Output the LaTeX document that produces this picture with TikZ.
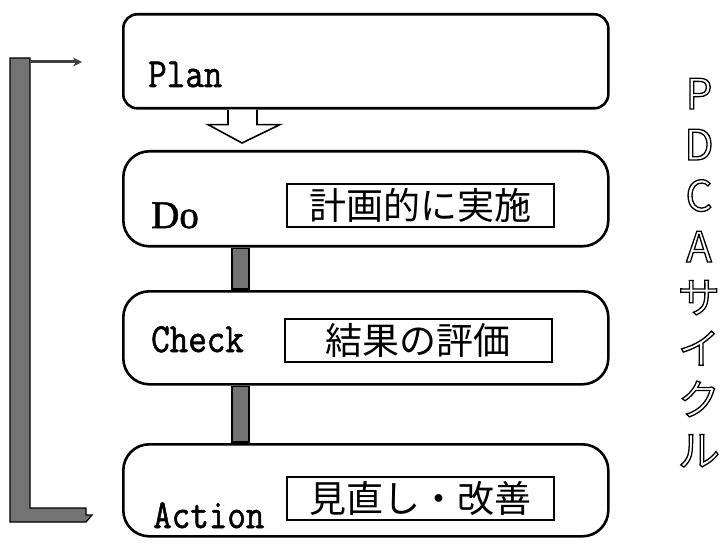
\documentclass[tikz,border=0pt]{standalone}
\usepackage{fontspec}
\usetikzlibrary{arrows.meta,calc}
\newfontfamily\cjkfont{Noto Sans CJK JP}
\newfontfamily\doserif{Liberation Serif}
\newcommand{\heavytext}[2]{\special{pdf:literal direct 2 Tr #1 w}#2\special{pdf:literal direct 0 Tr 1 w}}
\newcommand{\hollowtext}[2]{\special{pdf:literal direct 1 Tr #1 w}#2\special{pdf:literal direct 0 Tr 1 w}}
\newcommand{\tallmono}[1]{\scalebox{1}[1.15]{\heavytext{0.5}{#1}}}
\tikzset{
  stagebox/.style={draw=black, line width=2.6pt, rounded corners=26pt, minimum width=485pt, anchor=north west, inner sep=0pt},
  planbox/.style={draw=black, line width=2.6pt, rounded corners=14pt, minimum width=485pt, anchor=north west, inner sep=0pt},
  label/.style={anchor=base west, inner sep=0pt, font=\ttfamily\fontsize{36}{40}\selectfont},
  notebox/.style={draw=black, line width=1.8pt, minimum width=267pt, minimum height=43pt, anchor=north west, inner sep=0pt, font=\cjkfont\fontsize{37}{40}\selectfont},
  greybar/.style={fill=black!55, draw=black, line width=1.2pt},
}
\begin{document}
\begin{tikzpicture}[x=1pt,y=-1pt]
\useasboundingbox (0,0) rectangle (725,545);
% boxes
\node[planbox, minimum height=94pt] (plan) at (122,13) {};
\node[stagebox, minimum height=95pt] (do) at (122,150) {};
\node[stagebox, minimum height=93pt] (check) at (122,290) {};
\node[stagebox, minimum height=92pt] (action) at (122,443) {};
% labels
\node[label] (plantxt) at (148,87) {\tallmono{Plan}};
\node[label, font=\doserif\fontsize{39}{42}\selectfont] (dotxt) at (151,228) {\heavytext{0.5}{Do}};
\node[label] (checktxt) at (151,352) {\tallmono{Check}};
\node[label] (actiontxt) at (153,528) {\tallmono{Action}};
% notes
\node[notebox] (n1) at (286,183) {計画的に実施};
\node[notebox] (n2) at (284,318) {結果の評価};
\node[notebox] (n3) at (286,476) {見直し・改善};
% hollow arrow plan -> do
\draw[line width=1.6pt, fill=white]
  ($(plan.south west)+(106,0)$) -- ($(plan.south west)+(106,15)$) -- ($(plan.south west)+(86,15)$)
  -- ($(do.north west)+(120,-7)$) -- ($(plan.south west)+(158,15)$) -- ($(plan.south west)+(135,15)$)
  -- ($(plan.south west)+(135,0)$);
% grey connectors
\filldraw[greybar] ($(do.south west)+(110,1)$) rectangle ($(check.north west)+(127,-1)$);
\filldraw[greybar] ($(check.south west)+(110,1)$) rectangle ($(action.north west)+(127,-1)$);
% feedback bracket
\coordinate (fbstart) at (92,515);
\coordinate (fbend) at (82,62);
\filldraw[greybar] (10,58) -- (30,58) -- (30,508) -- (86,508) |- (fbstart) -- (86,522) -- (10,522) -- cycle;
\draw[line width=3pt, black!75, -{Stealth[length=9pt,width=9pt]}] (30,62) -- (fbend);
% vertical title
\node[font=\cjkfont\fontsize{42}{51}\selectfont, align=center, anchor=north, inner sep=0pt] (pdca) at (699,78)
  {\hollowtext{1.3}{P\\D\\C\\A\\サ\\イ\\ク\\ル}};
\end{tikzpicture}
\end{document}
